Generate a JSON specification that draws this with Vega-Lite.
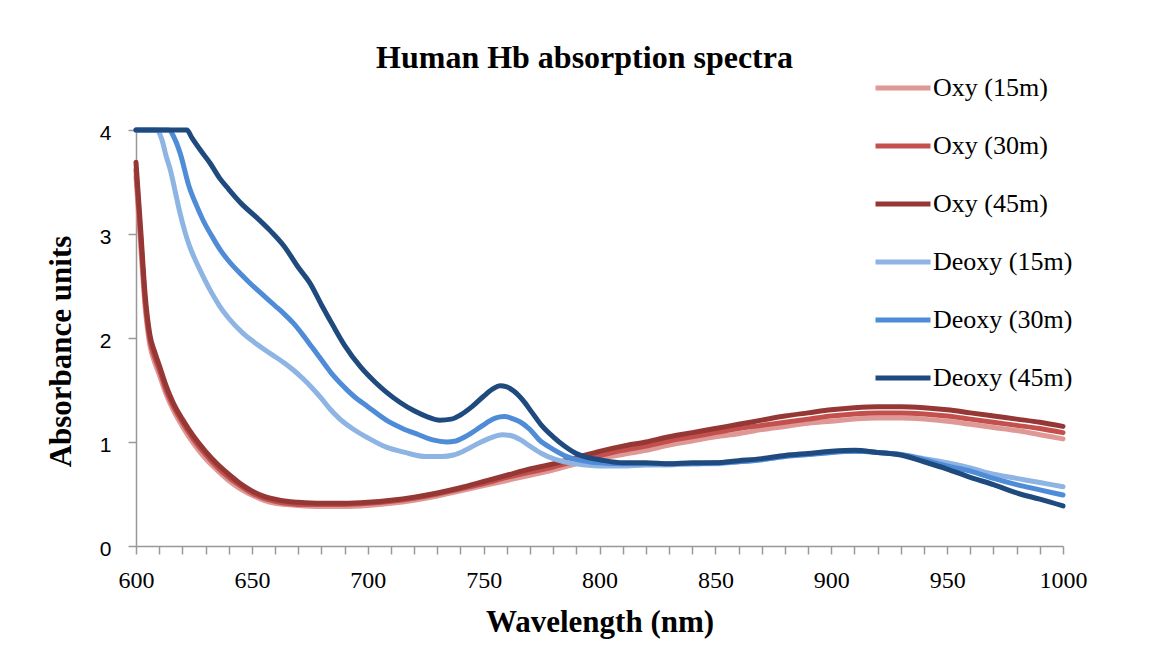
{
"$schema": "https://vega.github.io/schema/vega-lite/v6.json",
"width": 927, "height": 416,
"autosize": {"type": "none"},
"padding": {"left": 136, "top": 130, "right": 89, "bottom": 102},
"background": "white",
"title": {"text": "Human Hb absorption spectra", "font": "Liberation Serif", "fontSize": 32, "fontWeight": "bold", "color": "black", "anchor": "middle", "frame": "group", "dx": -15, "dy": 21},
"config": {"view": {"stroke": null}},
"data": {"values": [
{"s":"Oxy (15m)","wl":600,"a":3.55},{"s":"Oxy (15m)","wl":602,"a":2.9},{"s":"Oxy (15m)","wl":604,"a":2.28},{"s":"Oxy (15m)","wl":606,"a":1.93},{"s":"Oxy (15m)","wl":608,"a":1.77},{"s":"Oxy (15m)","wl":610,"a":1.65},{"s":"Oxy (15m)","wl":613,"a":1.46},{"s":"Oxy (15m)","wl":616,"a":1.31},{"s":"Oxy (15m)","wl":620,"a":1.15},{"s":"Oxy (15m)","wl":625,"a":0.98},{"s":"Oxy (15m)","wl":630,"a":0.84},{"s":"Oxy (15m)","wl":635,"a":0.73},{"s":"Oxy (15m)","wl":640,"a":0.63},{"s":"Oxy (15m)","wl":645,"a":0.55},{"s":"Oxy (15m)","wl":650,"a":0.49},{"s":"Oxy (15m)","wl":655,"a":0.44},{"s":"Oxy (15m)","wl":660,"a":0.41},{"s":"Oxy (15m)","wl":665,"a":0.4},{"s":"Oxy (15m)","wl":670,"a":0.39},{"s":"Oxy (15m)","wl":680,"a":0.38},{"s":"Oxy (15m)","wl":690,"a":0.38},{"s":"Oxy (15m)","wl":700,"a":0.39},{"s":"Oxy (15m)","wl":710,"a":0.41},{"s":"Oxy (15m)","wl":720,"a":0.44},{"s":"Oxy (15m)","wl":730,"a":0.48},{"s":"Oxy (15m)","wl":740,"a":0.53},{"s":"Oxy (15m)","wl":750,"a":0.58},{"s":"Oxy (15m)","wl":760,"a":0.63},{"s":"Oxy (15m)","wl":770,"a":0.68},{"s":"Oxy (15m)","wl":780,"a":0.73},{"s":"Oxy (15m)","wl":790,"a":0.79},{"s":"Oxy (15m)","wl":800,"a":0.84},{"s":"Oxy (15m)","wl":810,"a":0.88},{"s":"Oxy (15m)","wl":820,"a":0.92},{"s":"Oxy (15m)","wl":830,"a":0.97},{"s":"Oxy (15m)","wl":840,"a":1.01},{"s":"Oxy (15m)","wl":850,"a":1.05},{"s":"Oxy (15m)","wl":860,"a":1.08},{"s":"Oxy (15m)","wl":870,"a":1.12},{"s":"Oxy (15m)","wl":880,"a":1.15},{"s":"Oxy (15m)","wl":890,"a":1.18},{"s":"Oxy (15m)","wl":900,"a":1.2},{"s":"Oxy (15m)","wl":910,"a":1.22},{"s":"Oxy (15m)","wl":920,"a":1.23},{"s":"Oxy (15m)","wl":930,"a":1.23},{"s":"Oxy (15m)","wl":940,"a":1.22},{"s":"Oxy (15m)","wl":950,"a":1.2},{"s":"Oxy (15m)","wl":960,"a":1.17},{"s":"Oxy (15m)","wl":970,"a":1.14},{"s":"Oxy (15m)","wl":980,"a":1.11},{"s":"Oxy (15m)","wl":990,"a":1.07},{"s":"Oxy (15m)","wl":1000,"a":1.03},
{"s":"Oxy (30m)","wl":600,"a":3.62},{"s":"Oxy (30m)","wl":602,"a":2.98},{"s":"Oxy (30m)","wl":604,"a":2.34},{"s":"Oxy (30m)","wl":606,"a":1.98},{"s":"Oxy (30m)","wl":608,"a":1.82},{"s":"Oxy (30m)","wl":610,"a":1.7},{"s":"Oxy (30m)","wl":613,"a":1.5},{"s":"Oxy (30m)","wl":616,"a":1.35},{"s":"Oxy (30m)","wl":620,"a":1.19},{"s":"Oxy (30m)","wl":625,"a":1.02},{"s":"Oxy (30m)","wl":630,"a":0.88},{"s":"Oxy (30m)","wl":635,"a":0.76},{"s":"Oxy (30m)","wl":640,"a":0.66},{"s":"Oxy (30m)","wl":645,"a":0.58},{"s":"Oxy (30m)","wl":650,"a":0.51},{"s":"Oxy (30m)","wl":655,"a":0.46},{"s":"Oxy (30m)","wl":660,"a":0.43},{"s":"Oxy (30m)","wl":665,"a":0.41},{"s":"Oxy (30m)","wl":670,"a":0.4},{"s":"Oxy (30m)","wl":680,"a":0.4},{"s":"Oxy (30m)","wl":690,"a":0.4},{"s":"Oxy (30m)","wl":700,"a":0.41},{"s":"Oxy (30m)","wl":710,"a":0.43},{"s":"Oxy (30m)","wl":720,"a":0.46},{"s":"Oxy (30m)","wl":730,"a":0.5},{"s":"Oxy (30m)","wl":740,"a":0.55},{"s":"Oxy (30m)","wl":750,"a":0.6},{"s":"Oxy (30m)","wl":760,"a":0.66},{"s":"Oxy (30m)","wl":770,"a":0.71},{"s":"Oxy (30m)","wl":780,"a":0.76},{"s":"Oxy (30m)","wl":790,"a":0.82},{"s":"Oxy (30m)","wl":800,"a":0.87},{"s":"Oxy (30m)","wl":810,"a":0.92},{"s":"Oxy (30m)","wl":820,"a":0.96},{"s":"Oxy (30m)","wl":830,"a":1.01},{"s":"Oxy (30m)","wl":840,"a":1.05},{"s":"Oxy (30m)","wl":850,"a":1.09},{"s":"Oxy (30m)","wl":860,"a":1.13},{"s":"Oxy (30m)","wl":870,"a":1.16},{"s":"Oxy (30m)","wl":880,"a":1.19},{"s":"Oxy (30m)","wl":890,"a":1.22},{"s":"Oxy (30m)","wl":900,"a":1.25},{"s":"Oxy (30m)","wl":910,"a":1.27},{"s":"Oxy (30m)","wl":920,"a":1.28},{"s":"Oxy (30m)","wl":930,"a":1.28},{"s":"Oxy (30m)","wl":940,"a":1.27},{"s":"Oxy (30m)","wl":950,"a":1.25},{"s":"Oxy (30m)","wl":960,"a":1.22},{"s":"Oxy (30m)","wl":970,"a":1.19},{"s":"Oxy (30m)","wl":980,"a":1.16},{"s":"Oxy (30m)","wl":990,"a":1.13},{"s":"Oxy (30m)","wl":1000,"a":1.09},
{"s":"Oxy (45m)","wl":600,"a":3.69},{"s":"Oxy (45m)","wl":602,"a":3.05},{"s":"Oxy (45m)","wl":604,"a":2.4},{"s":"Oxy (45m)","wl":606,"a":2.03},{"s":"Oxy (45m)","wl":608,"a":1.87},{"s":"Oxy (45m)","wl":610,"a":1.74},{"s":"Oxy (45m)","wl":613,"a":1.54},{"s":"Oxy (45m)","wl":616,"a":1.38},{"s":"Oxy (45m)","wl":620,"a":1.22},{"s":"Oxy (45m)","wl":625,"a":1.05},{"s":"Oxy (45m)","wl":630,"a":0.91},{"s":"Oxy (45m)","wl":635,"a":0.79},{"s":"Oxy (45m)","wl":640,"a":0.69},{"s":"Oxy (45m)","wl":645,"a":0.6},{"s":"Oxy (45m)","wl":650,"a":0.53},{"s":"Oxy (45m)","wl":655,"a":0.48},{"s":"Oxy (45m)","wl":660,"a":0.45},{"s":"Oxy (45m)","wl":665,"a":0.43},{"s":"Oxy (45m)","wl":670,"a":0.42},{"s":"Oxy (45m)","wl":680,"a":0.41},{"s":"Oxy (45m)","wl":690,"a":0.41},{"s":"Oxy (45m)","wl":700,"a":0.42},{"s":"Oxy (45m)","wl":710,"a":0.44},{"s":"Oxy (45m)","wl":720,"a":0.47},{"s":"Oxy (45m)","wl":730,"a":0.51},{"s":"Oxy (45m)","wl":740,"a":0.56},{"s":"Oxy (45m)","wl":750,"a":0.62},{"s":"Oxy (45m)","wl":760,"a":0.68},{"s":"Oxy (45m)","wl":770,"a":0.74},{"s":"Oxy (45m)","wl":780,"a":0.79},{"s":"Oxy (45m)","wl":790,"a":0.85},{"s":"Oxy (45m)","wl":800,"a":0.91},{"s":"Oxy (45m)","wl":810,"a":0.96},{"s":"Oxy (45m)","wl":820,"a":1.0},{"s":"Oxy (45m)","wl":830,"a":1.05},{"s":"Oxy (45m)","wl":840,"a":1.09},{"s":"Oxy (45m)","wl":850,"a":1.13},{"s":"Oxy (45m)","wl":860,"a":1.17},{"s":"Oxy (45m)","wl":870,"a":1.21},{"s":"Oxy (45m)","wl":880,"a":1.25},{"s":"Oxy (45m)","wl":890,"a":1.28},{"s":"Oxy (45m)","wl":900,"a":1.31},{"s":"Oxy (45m)","wl":910,"a":1.33},{"s":"Oxy (45m)","wl":920,"a":1.34},{"s":"Oxy (45m)","wl":930,"a":1.34},{"s":"Oxy (45m)","wl":940,"a":1.33},{"s":"Oxy (45m)","wl":950,"a":1.31},{"s":"Oxy (45m)","wl":960,"a":1.28},{"s":"Oxy (45m)","wl":970,"a":1.25},{"s":"Oxy (45m)","wl":980,"a":1.22},{"s":"Oxy (45m)","wl":990,"a":1.19},{"s":"Oxy (45m)","wl":1000,"a":1.15},
{"s":"Deoxy (15m)","wl":600,"a":4},{"s":"Deoxy (15m)","wl":609,"a":4},{"s":"Deoxy (15m)","wl":611,"a":3.92},{"s":"Deoxy (15m)","wl":613,"a":3.75},{"s":"Deoxy (15m)","wl":615,"a":3.6},{"s":"Deoxy (15m)","wl":617,"a":3.4},{"s":"Deoxy (15m)","wl":619,"a":3.2},{"s":"Deoxy (15m)","wl":621,"a":3.03},{"s":"Deoxy (15m)","wl":623,"a":2.89},{"s":"Deoxy (15m)","wl":626,"a":2.73},{"s":"Deoxy (15m)","wl":629,"a":2.59},{"s":"Deoxy (15m)","wl":632,"a":2.46},{"s":"Deoxy (15m)","wl":636,"a":2.31},{"s":"Deoxy (15m)","wl":640,"a":2.19},{"s":"Deoxy (15m)","wl":646,"a":2.05},{"s":"Deoxy (15m)","wl":651,"a":1.96},{"s":"Deoxy (15m)","wl":656,"a":1.88},{"s":"Deoxy (15m)","wl":660,"a":1.82},{"s":"Deoxy (15m)","wl":664,"a":1.76},{"s":"Deoxy (15m)","wl":668,"a":1.69},{"s":"Deoxy (15m)","wl":672,"a":1.61},{"s":"Deoxy (15m)","wl":676,"a":1.52},{"s":"Deoxy (15m)","wl":680,"a":1.42},{"s":"Deoxy (15m)","wl":684,"a":1.31},{"s":"Deoxy (15m)","wl":688,"a":1.22},{"s":"Deoxy (15m)","wl":694,"a":1.12},{"s":"Deoxy (15m)","wl":700,"a":1.04},{"s":"Deoxy (15m)","wl":708,"a":0.95},{"s":"Deoxy (15m)","wl":716,"a":0.9},{"s":"Deoxy (15m)","wl":725,"a":0.86},{"s":"Deoxy (15m)","wl":732,"a":0.86},{"s":"Deoxy (15m)","wl":737,"a":0.875},{"s":"Deoxy (15m)","wl":742,"a":0.92},{"s":"Deoxy (15m)","wl":748,"a":0.99},{"s":"Deoxy (15m)","wl":753,"a":1.04},{"s":"Deoxy (15m)","wl":758,"a":1.07},{"s":"Deoxy (15m)","wl":762,"a":1.06},{"s":"Deoxy (15m)","wl":766,"a":1.02},{"s":"Deoxy (15m)","wl":770,"a":0.96},{"s":"Deoxy (15m)","wl":775,"a":0.89},{"s":"Deoxy (15m)","wl":780,"a":0.84},{"s":"Deoxy (15m)","wl":790,"a":0.79},{"s":"Deoxy (15m)","wl":800,"a":0.77},{"s":"Deoxy (15m)","wl":810,"a":0.77},{"s":"Deoxy (15m)","wl":820,"a":0.78},{"s":"Deoxy (15m)","wl":830,"a":0.78},{"s":"Deoxy (15m)","wl":840,"a":0.79},{"s":"Deoxy (15m)","wl":850,"a":0.79},{"s":"Deoxy (15m)","wl":860,"a":0.81},{"s":"Deoxy (15m)","wl":870,"a":0.83},{"s":"Deoxy (15m)","wl":880,"a":0.86},{"s":"Deoxy (15m)","wl":890,"a":0.88},{"s":"Deoxy (15m)","wl":900,"a":0.9},{"s":"Deoxy (15m)","wl":910,"a":0.91},{"s":"Deoxy (15m)","wl":920,"a":0.9},{"s":"Deoxy (15m)","wl":930,"a":0.88},{"s":"Deoxy (15m)","wl":940,"a":0.84},{"s":"Deoxy (15m)","wl":950,"a":0.8},{"s":"Deoxy (15m)","wl":960,"a":0.75},{"s":"Deoxy (15m)","wl":970,"a":0.69},{"s":"Deoxy (15m)","wl":980,"a":0.65},{"s":"Deoxy (15m)","wl":990,"a":0.61},{"s":"Deoxy (15m)","wl":1000,"a":0.57},
{"s":"Deoxy (30m)","wl":600,"a":4},{"s":"Deoxy (30m)","wl":614,"a":4},{"s":"Deoxy (30m)","wl":617,"a":3.9},{"s":"Deoxy (30m)","wl":619,"a":3.78},{"s":"Deoxy (30m)","wl":623,"a":3.45},{"s":"Deoxy (30m)","wl":626,"a":3.28},{"s":"Deoxy (30m)","wl":629,"a":3.13},{"s":"Deoxy (30m)","wl":633,"a":2.97},{"s":"Deoxy (30m)","wl":636,"a":2.86},{"s":"Deoxy (30m)","wl":640,"a":2.74},{"s":"Deoxy (30m)","wl":645,"a":2.62},{"s":"Deoxy (30m)","wl":650,"a":2.51},{"s":"Deoxy (30m)","wl":655,"a":2.41},{"s":"Deoxy (30m)","wl":660,"a":2.31},{"s":"Deoxy (30m)","wl":664,"a":2.23},{"s":"Deoxy (30m)","wl":668,"a":2.14},{"s":"Deoxy (30m)","wl":672,"a":2.03},{"s":"Deoxy (30m)","wl":676,"a":1.91},{"s":"Deoxy (30m)","wl":680,"a":1.79},{"s":"Deoxy (30m)","wl":684,"a":1.67},{"s":"Deoxy (30m)","wl":688,"a":1.57},{"s":"Deoxy (30m)","wl":694,"a":1.44},{"s":"Deoxy (30m)","wl":700,"a":1.34},{"s":"Deoxy (30m)","wl":708,"a":1.21},{"s":"Deoxy (30m)","wl":715,"a":1.13},{"s":"Deoxy (30m)","wl":722,"a":1.07},{"s":"Deoxy (30m)","wl":728,"a":1.02},{"s":"Deoxy (30m)","wl":734,"a":1.0},{"s":"Deoxy (30m)","wl":738,"a":1.01},{"s":"Deoxy (30m)","wl":742,"a":1.05},{"s":"Deoxy (30m)","wl":747,"a":1.12},{"s":"Deoxy (30m)","wl":751,"a":1.18},{"s":"Deoxy (30m)","wl":755,"a":1.23},{"s":"Deoxy (30m)","wl":759,"a":1.245},{"s":"Deoxy (30m)","wl":763,"a":1.22},{"s":"Deoxy (30m)","wl":766,"a":1.19},{"s":"Deoxy (30m)","wl":770,"a":1.12},{"s":"Deoxy (30m)","wl":774,"a":1.02},{"s":"Deoxy (30m)","wl":780,"a":0.93},{"s":"Deoxy (30m)","wl":786,"a":0.86},{"s":"Deoxy (30m)","wl":793,"a":0.82},{"s":"Deoxy (30m)","wl":800,"a":0.8},{"s":"Deoxy (30m)","wl":810,"a":0.79},{"s":"Deoxy (30m)","wl":820,"a":0.79},{"s":"Deoxy (30m)","wl":830,"a":0.79},{"s":"Deoxy (30m)","wl":840,"a":0.79},{"s":"Deoxy (30m)","wl":850,"a":0.8},{"s":"Deoxy (30m)","wl":860,"a":0.81},{"s":"Deoxy (30m)","wl":870,"a":0.83},{"s":"Deoxy (30m)","wl":880,"a":0.86},{"s":"Deoxy (30m)","wl":890,"a":0.88},{"s":"Deoxy (30m)","wl":900,"a":0.9},{"s":"Deoxy (30m)","wl":910,"a":0.91},{"s":"Deoxy (30m)","wl":920,"a":0.9},{"s":"Deoxy (30m)","wl":930,"a":0.88},{"s":"Deoxy (30m)","wl":940,"a":0.83},{"s":"Deoxy (30m)","wl":950,"a":0.77},{"s":"Deoxy (30m)","wl":960,"a":0.72},{"s":"Deoxy (30m)","wl":970,"a":0.65},{"s":"Deoxy (30m)","wl":980,"a":0.59},{"s":"Deoxy (30m)","wl":990,"a":0.54},{"s":"Deoxy (30m)","wl":1000,"a":0.49},
{"s":"Deoxy (45m)","wl":600,"a":4},{"s":"Deoxy (45m)","wl":622,"a":4},{"s":"Deoxy (45m)","wl":624,"a":3.93},{"s":"Deoxy (45m)","wl":628,"a":3.8},{"s":"Deoxy (45m)","wl":632,"a":3.68},{"s":"Deoxy (45m)","wl":636,"a":3.54},{"s":"Deoxy (45m)","wl":640,"a":3.43},{"s":"Deoxy (45m)","wl":646,"a":3.28},{"s":"Deoxy (45m)","wl":652,"a":3.16},{"s":"Deoxy (45m)","wl":658,"a":3.03},{"s":"Deoxy (45m)","wl":664,"a":2.88},{"s":"Deoxy (45m)","wl":670,"a":2.68},{"s":"Deoxy (45m)","wl":675,"a":2.53},{"s":"Deoxy (45m)","wl":680,"a":2.32},{"s":"Deoxy (45m)","wl":685,"a":2.12},{"s":"Deoxy (45m)","wl":690,"a":1.93},{"s":"Deoxy (45m)","wl":697,"a":1.72},{"s":"Deoxy (45m)","wl":703,"a":1.58},{"s":"Deoxy (45m)","wl":708,"a":1.48},{"s":"Deoxy (45m)","wl":714,"a":1.38},{"s":"Deoxy (45m)","wl":720,"a":1.3},{"s":"Deoxy (45m)","wl":726,"a":1.24},{"s":"Deoxy (45m)","wl":731,"a":1.21},{"s":"Deoxy (45m)","wl":736,"a":1.22},{"s":"Deoxy (45m)","wl":740,"a":1.26},{"s":"Deoxy (45m)","wl":745,"a":1.34},{"s":"Deoxy (45m)","wl":750,"a":1.44},{"s":"Deoxy (45m)","wl":754,"a":1.51},{"s":"Deoxy (45m)","wl":757,"a":1.54},{"s":"Deoxy (45m)","wl":760,"a":1.53},{"s":"Deoxy (45m)","wl":763,"a":1.49},{"s":"Deoxy (45m)","wl":767,"a":1.4},{"s":"Deoxy (45m)","wl":771,"a":1.28},{"s":"Deoxy (45m)","wl":775,"a":1.16},{"s":"Deoxy (45m)","wl":780,"a":1.05},{"s":"Deoxy (45m)","wl":785,"a":0.96},{"s":"Deoxy (45m)","wl":790,"a":0.89},{"s":"Deoxy (45m)","wl":795,"a":0.85},{"s":"Deoxy (45m)","wl":800,"a":0.83},{"s":"Deoxy (45m)","wl":810,"a":0.8},{"s":"Deoxy (45m)","wl":820,"a":0.8},{"s":"Deoxy (45m)","wl":830,"a":0.79},{"s":"Deoxy (45m)","wl":840,"a":0.8},{"s":"Deoxy (45m)","wl":850,"a":0.8},{"s":"Deoxy (45m)","wl":860,"a":0.82},{"s":"Deoxy (45m)","wl":870,"a":0.84},{"s":"Deoxy (45m)","wl":880,"a":0.87},{"s":"Deoxy (45m)","wl":890,"a":0.89},{"s":"Deoxy (45m)","wl":900,"a":0.91},{"s":"Deoxy (45m)","wl":910,"a":0.92},{"s":"Deoxy (45m)","wl":920,"a":0.9},{"s":"Deoxy (45m)","wl":930,"a":0.875},{"s":"Deoxy (45m)","wl":940,"a":0.81},{"s":"Deoxy (45m)","wl":950,"a":0.74},{"s":"Deoxy (45m)","wl":960,"a":0.66},{"s":"Deoxy (45m)","wl":970,"a":0.59},{"s":"Deoxy (45m)","wl":980,"a":0.51},{"s":"Deoxy (45m)","wl":990,"a":0.45},{"s":"Deoxy (45m)","wl":1000,"a":0.385}
]},
"mark": {"type": "line", "strokeWidth": 5, "interpolate": "monotone", "strokeCap": "round", "strokeJoin": "round"},
"encoding": {
"x": {"field": "wl", "type": "quantitative", "scale": {"domain": [600, 1000], "nice": false, "zero": false},
 "axis": {"values": [600,610,620,630,640,650,660,670,680,690,700,710,720,730,740,750,760,770,780,790,800,810,820,830,840,850,860,870,880,890,900,910,920,930,940,950,960,970,980,990,1000],
 "labelExpr": "datum.value % 50 == 0 ? datum.label : ''", "format": "d", "labelOverlap": false, "labelFlush": false,
 "title": "Wavelength (nm)", "titleFont": "Liberation Serif", "titleFontSize": 31, "titleFontWeight": "bold", "titleColor": "black", "titleY": 76, "titleBaseline": "middle",
 "labelFont": "Liberation Serif", "labelFontSize": 24, "labelColor": "black", "labelPadding": 14,
 "domainColor": "#999999", "domainWidth": 1.5, "tickColor": "#999999", "tickWidth": 1.5, "tickSize": 8, "grid": false}},
"y": {"field": "a", "type": "quantitative", "scale": {"domain": [0, 4], "nice": false},
 "axis": {"values": [0,1,2,3,4], "format": "d",
 "title": "Absorbance units", "titleFont": "Liberation Serif", "titleFontSize": 31, "titleFontWeight": "bold", "titleColor": "black", "titleX": -75, "titleY": 221, "titleAngle": -90, "titleBaseline": "middle", "titleAlign": "center",
 "labelFont": "Liberation Sans", "labelFontSize": 21, "labelColor": "black", "labelPadding": 17, "labelOffset": 3, "labelAlign": "right",
 "domainColor": "#999999", "domainWidth": 1.5, "tickColor": "#999999", "tickWidth": 1.5, "tickSize": 8, "grid": false}},
"color": {"field": "s", "type": "nominal", "sort": null,
 "scale": {"domain": ["Oxy (15m)","Oxy (30m)","Oxy (45m)","Deoxy (15m)","Deoxy (30m)","Deoxy (45m)"], "range": ["#DE9896","#C4504D","#953735","#8DB4E2","#4F8CD8","#1F4A7E"]},
 "legend": {"title": null, "orient": "none", "legendX": 737, "legendY": -72, "symbolType": "stroke", "symbolSize": 3025, "symbolStrokeWidth": 5, "labelFont": "Liberation Serif", "labelFontSize": 26, "labelColor": "black", "rowPadding": 15, "labelOffset": 0, "padding": 0, "labelLimit": 300}}
}
}
